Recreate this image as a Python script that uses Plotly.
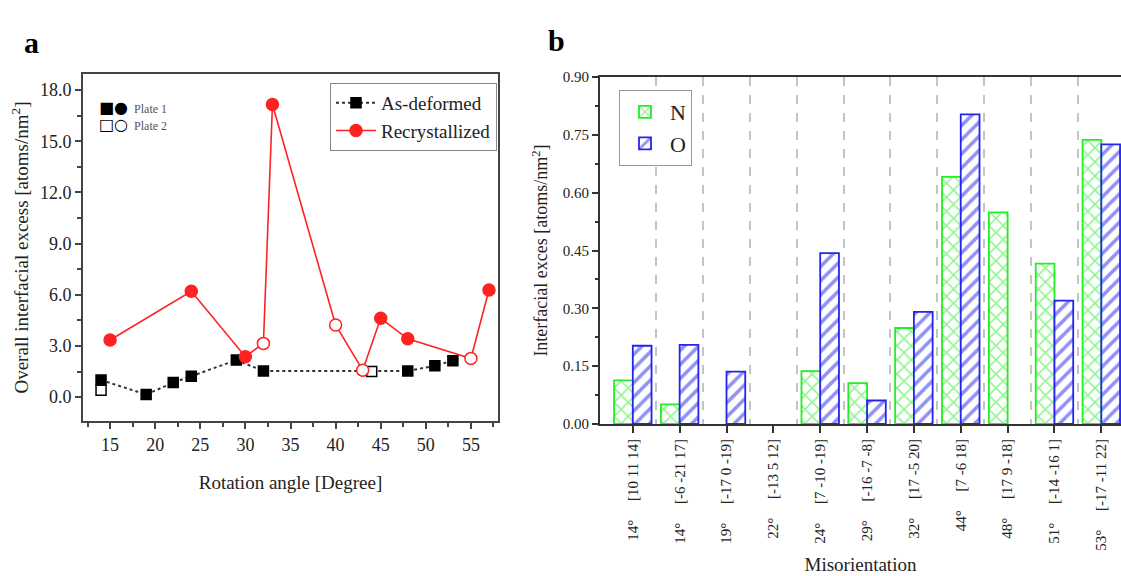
import plotly.graph_objects as go

# ---------- Panel a data ----------
def_x = [14, 14, 19, 22, 24, 29, 32, 44, 48, 51, 53]
def_y = [1.0, 0.4, 0.15, 0.85, 1.23, 2.17, 1.53, 1.5, 1.53, 1.84, 2.13]
def_plate = [1, 2, 1, 1, 1, 1, 1, 2, 1, 1, 1]

rec_x = [15, 24, 30, 32, 33, 40, 43, 45, 48, 55, 57]
rec_y = [3.35, 6.2, 2.37, 3.15, 17.15, 4.23, 1.58, 4.62, 3.42, 2.27, 6.28]
rec_plate = [1, 1, 1, 2, 1, 2, 2, 1, 1, 2, 1]

# ---------- Panel b data ----------
mis_angle = ["14°", "14°", "19°", "22°", "24°", "29°", "32°", "44°", "48°", "51°", "53°"]
mis_axis = ["[10 11 14]", "[-6 -21 17]", "[-17 0 -19]", "[-13 5 12]", "[7 -10 -19]",
            "[-16 -7 -8]", "[17 -5 20]", "[7 -6 18]", "[17 9 -18]", "[-14 -16 1]", "[-17 -11 22]"]
n_vals = [0.113, 0.051, None, None, 0.137, 0.106, 0.249, 0.641, 0.549, 0.416, 0.737]
o_vals = [0.203, 0.205, 0.136, None, 0.443, 0.061, 0.291, 0.803, None, 0.320, 0.725]

SERIF = "Liberation Serif, Times New Roman, serif"
TXT = "#222222"
RED = "#ff2222"
GREEN = "#22ee22"
BLUE = "#2424ee"
W, H = 1121, 576

fig = go.Figure()

main_idx = [i for i in range(len(def_x)) if not (def_x[i] == 14 and def_plate[i] == 2)]
extra_idx = [i for i in range(len(def_x)) if i not in main_idx]
fig.add_trace(go.Scatter(
    x=[def_x[i] for i in main_idx], y=[def_y[i] for i in main_idx],
    mode="lines+markers", name="As-deformed",
    line=dict(color="#333333", width=2, dash="dot"),
    marker=dict(symbol="square", size=10,
                color=["black" if def_plate[i] == 1 else "white" for i in main_idx],
                line=dict(color="black", width=1.5)),
    xaxis="x", yaxis="y", legend="legend"))
fig.add_trace(go.Scatter(
    x=[def_x[i] for i in extra_idx], y=[def_y[i] for i in extra_idx],
    mode="markers", showlegend=False,
    marker=dict(symbol="square", size=10, color="white", line=dict(color="black", width=1.5)),
    xaxis="x", yaxis="y"))

fig.add_trace(go.Scatter(
    x=rec_x, y=rec_y, mode="lines+markers", name="Recrystallized",
    line=dict(color=RED, width=1.6),
    marker=dict(symbol="circle", size=12,
                color=[RED if p == 1 else "white" for p in rec_plate],
                line=dict(color=RED, width=1.5)),
    xaxis="x", yaxis="y", legend="legend"))

cats = list(range(len(mis_angle)))
fig.add_trace(go.Bar(
    x=cats, y=n_vals, name="N", xaxis="x2", yaxis="y2", legend="legend2",
    marker=dict(color="white", line=dict(color=GREEN, width=1.8),
                pattern=dict(shape="x", fgcolor=GREEN, bgcolor="white", size=10, solidity=0.3))))
fig.add_trace(go.Bar(
    x=cats, y=o_vals, name="O", xaxis="x2", yaxis="y2", legend="legend2",
    marker=dict(color="white", line=dict(color=BLUE, width=1.8),
                pattern=dict(shape="/", fgcolor=BLUE, bgcolor="white", size=10, solidity=0.35))))

NB = "\u00a0"
tick_text = [f"{a}{NB*5}{b}" for a, b in zip(mis_angle, mis_axis)]

axis_font = dict(family=SERIF, size=18, color=TXT)

fig.update_layout(
    width=W, height=H, margin=dict(l=0, r=0, t=0, b=0, autoexpand=False),
    paper_bgcolor="white", plot_bgcolor="white",
    font=dict(family=SERIF, color=TXT),
    barmode="group", bargap=0.2, bargroupgap=0.0,
    xaxis=dict(domain=[83 / W, 498 / W], range=[12, 58], anchor="y", automargin=False,
               dtick=5, tick0=0, ticks="outside", ticklen=6, tickwidth=1.5, tickcolor="#444",
               minor=dict(dtick=2.5, ticks="outside", ticklen=4, tickcolor="#444"),
               showline=True, linecolor="#444", linewidth=2, mirror=True,
               showgrid=False, zeroline=False, tickfont=axis_font,
               title=dict(text="Rotation angle [Degree]", font=dict(family=SERIF, size=19, color=TXT), standoff=22)),
    yaxis=dict(domain=[1 - 421 / H, 1 - 74 / H], range=[-1.4, 18.94], anchor="x", automargin=False,
               dtick=3, tick0=0, tickformat=".1f", ticks="outside", ticklen=6, tickwidth=1.5, tickcolor="#444",
               minor=dict(dtick=1.5, ticks="outside", ticklen=4, tickcolor="#444"),
               showline=True, linecolor="#444", linewidth=2, mirror=True,
               showgrid=False, zeroline=False, tickfont=axis_font,
               title=dict(text="Overall interfacial excess [atoms/nm<sup>2</sup>]",
                          font=dict(family=SERIF, size=19, color=TXT), standoff=6)),
    xaxis2=dict(domain=[600 / W, 1.0], range=[-0.7, 10.42], anchor="y2", automargin=False,
                tickvals=cats, ticktext=tick_text, tickangle=-90,
                ticks="outside", ticklen=7, tickwidth=2, tickcolor="#333",
                showline=True, linecolor="#333", linewidth=2, mirror=True,
                showgrid=False, zeroline=False,
                minor=dict(tickvals=[c + 0.5 for c in cats[:-1]], showgrid=True, ticks="",
                           griddash="dash", gridcolor="#c4c4c4", gridwidth=1.5),
                tickfont=dict(family=SERIF, size=15, color=TXT),
                title=dict(text="Misorientation", font=dict(family=SERIF, size=19, color=TXT), standoff=8)),
    yaxis2=dict(domain=[1 - 424 / H, 1 - 77 / H], range=[0, 0.9], anchor="x2", automargin=False,
                dtick=0.15, tick0=0, tickformat=".2f", ticks="outside", ticklen=6, tickwidth=1.5, tickcolor="#333",
                minor=dict(dtick=0.075, ticks="outside", ticklen=3, tickcolor="#333"),
                showline=True, linecolor="#333", linewidth=2, mirror=False,
                showgrid=False, zeroline=False, tickfont=dict(family=SERIF, size=15, color=TXT),
                title=dict(text="Interfacial exces [atoms/nm<sup>2</sup>]",
                           font=dict(family=SERIF, size=18, color=TXT), standoff=10)),
    legend=dict(x=330 / W, y=1 - 83 / H, xanchor="left", yanchor="top",
                bordercolor="#888", borderwidth=1, bgcolor="white",
                font=dict(family=SERIF, size=19, color=TXT), tracegroupgap=0, itemwidth=40),
    legend2=dict(x=619 / W, y=1 - 90 / H, xanchor="left", yanchor="top",
                 bordercolor="#999", borderwidth=1, bgcolor="white",
                 font=dict(family=SERIF, size=22, color=TXT), tracegroupgap=0, itemwidth=40),
    showlegend=True,
)

fig.add_annotation(x=22 / W, y=1 - 24 / H, xref="paper", yref="paper", text="<b>a</b>",
                   showarrow=False, font=dict(family=SERIF, size=30, color="black"))
fig.add_annotation(x=556 / W, y=1 - 22 / H, xref="paper", yref="paper", text="<b>b</b>",
                   showarrow=False, font=dict(family=SERIF, size=30, color="black"))
fig.add_annotation(x=97 / W, y=1 - 96 / H, xref="paper", yref="paper", xanchor="left",
                   text="<span style='font-size:16px;color:black;font-family:DejaVu Sans'>■●</span>  Plate 1",
                   showarrow=False, font=dict(family=SERIF, size=12, color="#555"))
fig.add_annotation(x=97 / W, y=1 - 113 / H, xref="paper", yref="paper", xanchor="left",
                   text="<span style='font-size:16px;color:black;font-family:DejaVu Sans'>□○</span>  Plate 2",
                   showarrow=False, font=dict(family=SERIF, size=12, color="#555"))

fig.write_html("out.html", config={"displayModeBar": False},
               post_script="document.body.style.margin='0px';document.body.style.padding='0px';")
